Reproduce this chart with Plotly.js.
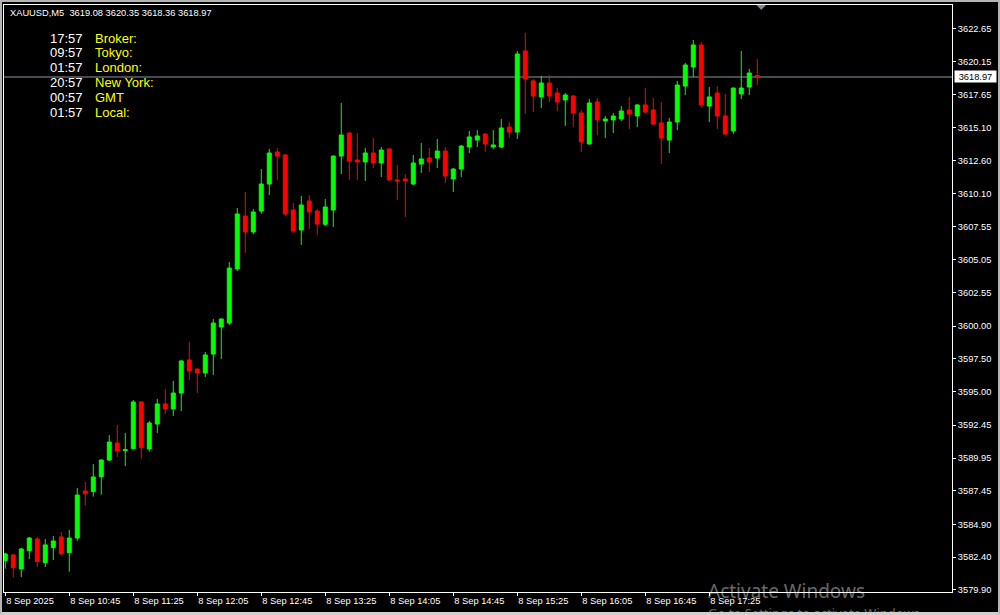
<!DOCTYPE html>
<html><head><meta charset="utf-8">
<script src="https://cdn.plot.ly/plotly-3.0.1.min.js"></script>
<style>
html,body{margin:0;padding:0;background:#000;overflow:hidden;}
#chart{width:1000px;height:615px;}
#frame{position:absolute;left:0;top:0;width:1000px;height:615px;box-sizing:border-box;border:2px solid #b4b4b4;border-bottom:3px solid #cfcfcf;pointer-events:none;}
</style></head><body>
<div id="chart"></div><div id="frame"></div>
<script>
const symbol = 'XAUUSD';
const timeframe = 'M5';
const day = '2025-09-08';

const times = [
 '10:05','10:10','10:15','10:20','10:25','10:30','10:35','10:40',
 '10:45','10:50','10:55','11:00','11:05','11:10','11:15','11:20',
 '11:25','11:30','11:35','11:40','11:45','11:50','11:55','12:00',
 '12:05','12:10','12:15','12:20','12:25','12:30','12:35','12:40',
 '12:45','12:50','12:55','13:00','13:05','13:10','13:15','13:20',
 '13:25','13:30','13:35','13:40','13:45','13:50','13:55','14:00',
 '14:05','14:10','14:15','14:20','14:25','14:30','14:35','14:40',
 '14:45','14:50','14:55','15:00','15:05','15:10','15:15','15:20',
 '15:25','15:30','15:35','15:40','15:45','15:50','15:55','16:00',
 '16:05','16:10','16:15','16:20','16:25','16:30','16:35','16:40',
 '16:45','16:50','16:55','17:00','17:05','17:10','17:15','17:20',
 '17:25','17:30','17:35','17:40','17:45','17:50','17:55'
];

const open = [
 3582.13,3582.57,3581.50,3582.89,3583.78,3581.98,3583.12,3583.94,3582.74,3583.86,
 3587.44,3587.39,3588.53,3589.80,3591.10,3590.51,3590.66,3594.22,3590.64,3592.54,
 3594.07,3593.69,3594.90,3597.42,3596.73,3596.43,3597.87,3599.93,3600.23,3604.35,
 3608.38,3607.17,3608.76,3610.82,3613.26,3613.03,3608.84,3607.32,3609.53,3608.76,
 3607.75,3608.84,3612.95,3614.70,3612.65,3612.50,3613.18,3612.42,3613.49,3611.13,
 3611.20,3610.82,3612.34,3612.80,3612.80,3613.33,3611.20,3611.96,3613.64,3614.17,
 3614.63,3613.64,3613.64,3615.16,3614.78,3620.95,3618.67,3617.45,3618.51,3617.75,
 3617.22,3617.52,3616.23,3613.87,3617.07,3615.62,3615.70,3615.77,3616.46,3616.00,
 3616.84,3616.46,3615.47,3614.17,3615.54,3618.28,3619.73,3621.41,3616.76,3617.75,
 3616.00,3614.86,3617.68,3618.21,3619.08
];
const high = [
 3582.74,3582.62,3583.10,3583.94,3583.94,3583.78,3584.01,3584.32,3584.47,3587.67,
 3588.12,3589.50,3589.84,3591.70,3592.47,3591.86,3594.37,3594.29,3592.77,3594.45,
 3595.21,3595.82,3597.42,3598.81,3596.76,3598.03,3600.54,3600.58,3604.88,3608.99,
 3610.21,3608.92,3611.96,3613.49,3613.56,3613.11,3609.37,3609.91,3609.98,3608.92,
 3609.68,3612.99,3616.99,3614.74,3614.70,3613.56,3614.32,3613.64,3613.52,3612.27,
 3611.58,3613.03,3613.94,3613.56,3614.25,3613.64,3612.04,3613.79,3614.86,3614.93,
 3614.66,3614.93,3615.77,3615.54,3620.95,3622.32,3618.82,3619.05,3619.12,3618.13,
 3617.75,3617.60,3616.46,3617.29,3617.37,3616.00,3616.23,3616.76,3617.45,3616.91,
 3618.13,3617.37,3617.07,3615.85,3618.67,3620.04,3621.79,3621.64,3618.21,3618.28,
 3617.68,3618.16,3620.95,3619.58,3620.35
];
const low = [
 3581.52,3580.84,3580.89,3582.26,3581.65,3581.65,3582.18,3582.51,3581.29,3583.65,
 3586.32,3587.01,3587.16,3589.72,3590.03,3589.34,3590.62,3589.90,3590.43,3591.86,
 3593.30,3593.15,3593.53,3595.89,3594.90,3596.12,3596.27,3597.49,3600.08,3604.20,
 3605.57,3607.01,3608.54,3609.98,3611.13,3608.38,3607.09,3606.18,3607.39,3606.94,
 3607.62,3607.55,3611.58,3611.13,3611.13,3611.05,3612.04,3611.35,3611.05,3609.60,
 3608.31,3610.74,3611.66,3611.73,3612.04,3610.90,3610.21,3611.35,3613.18,3613.64,
 3613.26,3613.49,3613.56,3614.32,3614.25,3616.15,3616.30,3616.61,3617.07,3616.38,
 3615.24,3615.16,3613.26,3613.82,3614.55,3614.32,3614.70,3615.62,3615.01,3615.16,
 3616.23,3615.31,3612.34,3613.18,3614.93,3617.60,3618.97,3616.61,3615.54,3615.01,
 3614.55,3614.63,3617.29,3617.60,3618.36
];
const close = [
 3582.64,3581.60,3583.02,3583.86,3582.06,3583.33,3583.63,3582.66,3583.86,3587.13,
 3587.23,3588.51,3589.80,3591.17,3590.49,3590.59,3594.22,3590.74,3592.62,3594.07,
 3593.69,3594.90,3597.34,3596.58,3596.43,3597.80,3600.23,3600.54,3604.42,3608.54,
 3607.17,3608.69,3610.82,3613.18,3612.95,3608.54,3607.24,3609.22,3608.69,3607.77,
 3609.07,3612.95,3614.55,3612.57,3612.50,3613.18,3612.42,3613.41,3611.13,3611.05,
 3611.05,3612.42,3612.73,3612.50,3613.33,3611.43,3611.96,3613.71,3614.40,3614.48,
 3613.87,3613.79,3615.09,3614.78,3620.72,3618.82,3617.52,3618.51,3617.52,3617.07,
 3617.60,3616.23,3614.02,3616.99,3615.70,3615.77,3616.00,3616.38,3616.15,3616.84,
 3616.30,3615.39,3614.32,3615.54,3618.36,3619.88,3621.41,3616.84,3617.45,3616.00,
 3614.63,3618.13,3618.13,3619.27,3618.97
];

const tickTimes = ['10:05','10:45','11:25','12:05','12:45','13:25','14:05','14:45','15:25','16:05','16:45','17:25'];
const tickLabels = ['8 Sep 2025','8 Sep 10:45','8 Sep 11:25','8 Sep 12:05','8 Sep 12:45','8 Sep 13:25',
                    '8 Sep 14:05','8 Sep 14:45','8 Sep 15:25','8 Sep 16:05','8 Sep 16:45','8 Sep 17:25'];
const priceTicks = [3622.65,3620.15,3617.65,3615.10,3612.60,3610.10,3607.55,3605.05,3602.55,
                    3600.00,3597.50,3595.00,3592.45,3589.95,3587.45,3584.90,3582.40,3579.90];

const clockTimes = ['17:57','09:57','01:57','20:57','00:57','01:57'];
const clockLabels = ['Broker:','Tokyo:','London:','New York:','GMT','Local:'];

// ---------- layout helpers (pixel -> paper) ----------
const PL = 4, PR = 952, PT = 5, PB = 592, W = 1000, H = 615;
const px = p => (p - PL) / (PR - PL);
const py = p => (PB - p) / (PB - PT);
const FONT = 'Liberation Sans, Arial, sans-serif';

const dates = times.map(t => day + ' ' + t);
const barMs = 5 * 60 * 1000;
const t0 = Date.parse(day + 'T' + times[0] + ':00Z');
const n = close.length - 1;
const fmt = v => v.toFixed(2);

const trace = {
  type: 'candlestick',
  x: dates, open: open, high: high, low: low, close: close,
  increasing: {line: {color: '#00ff00', width: 1}, fillcolor: '#00ff00'},
  decreasing: {line: {color: '#ff0000', width: 1}, fillcolor: '#ff0000'},
  whiskerwidth: 0,
  hoverinfo: 'skip',
  showlegend: false
};

const annotations = [];
annotations.push({
  xref: 'paper', yref: 'paper', x: px(8), y: py(13), xanchor: 'left', yanchor: 'middle',
  showarrow: false,
  text: symbol + ',' + timeframe + '\u00a0\u00a0' + [open[n], high[n], low[n], close[n]].map(fmt).join(' '),
  font: {family: FONT, size: 9.3, color: '#ffffff'}
});
clockTimes.forEach((t, i) => {
  const yy = 38 + 14.9 * i;
  annotations.push({xref: 'paper', yref: 'paper', x: px(85), y: py(yy), xanchor: 'right', yanchor: 'middle',
    showarrow: false, text: t, font: {family: FONT, size: 13, color: '#ffffff'}});
  annotations.push({xref: 'paper', yref: 'paper', x: px(93), y: py(yy), xanchor: 'left', yanchor: 'middle',
    showarrow: false, text: clockLabels[i], font: {family: FONT, size: 13, color: '#ffff00'}});
});
// current price tag
annotations.push({
  xref: 'paper', yref: 'y', x: 1, xanchor: 'left', xshift: 2, y: close[n], yanchor: 'middle',
  showarrow: false, text: fmt(close[n]), bgcolor: '#ffffff', borderpad: 1, width: 39, height: 9,
  font: {family: FONT, size: 9.3, color: '#000000'}
});
// Windows watermark
annotations.push({
  xref: 'paper', yref: 'paper', x: px(706), y: py(591), xanchor: 'left', yanchor: 'middle',
  showarrow: false, text: 'Activate Windows',
  font: {family: 'Noto Sans, Open Sans, sans-serif', size: 19, color: 'rgba(255,255,255,0.42)'}
});
annotations.push({
  xref: 'paper', yref: 'paper', x: px(706), y: py(613), xanchor: 'left', yanchor: 'middle',
  showarrow: false, text: 'Go to Settings to activate Windows.',
  font: {family: 'Noto Sans, Open Sans, sans-serif', size: 13, color: 'rgba(255,255,255,0.42)'}
});

const shapes = [
  {type: 'line', xref: 'paper', yref: 'y', x0: 0, x1: 1, y0: close[n], y1: close[n],
   line: {color: '#8a96a2', width: 1}, layer: 'below'},
  {type: 'path', xref: 'paper', yref: 'paper',
   path: 'M ' + px(756.5) + ',' + py(5) + ' L ' + px(766) + ',' + py(5) + ' L ' + px(761.2) + ',' + py(10) + ' Z',
   fillcolor: '#7d8994', line: {width: 0}, layer: 'above'}
];

const layout = {
  width: W, height: H,
  margin: {l: PL, r: W - PR, t: PT, b: H - PB, pad: 0},
  paper_bgcolor: '#000000', plot_bgcolor: '#000000',
  showlegend: false,
  boxgap: 0.5, boxgroupgap: 0,
  font: {family: FONT, size: 9, color: '#ffffff'},
  xaxis: {
    type: 'date',
    range: [t0 - 0.16 * barMs, t0 + 118.34 * barMs],
    rangeslider: {visible: false},
    showgrid: false, zeroline: false,
    showline: true, mirror: true, linecolor: '#ffffff', linewidth: 1,
    ticks: 'outside', ticklen: 3, tickcolor: '#ffffff', tickwidth: 1,
    tickvals: tickTimes.map(t => day + ' ' + t), ticktext: tickLabels,
    ticklabelposition: 'outside right',
    tickfont: {family: FONT, size: 9.3, color: '#ffffff'},
    fixedrange: true
  },
  yaxis: {
    side: 'right',
    range: [3579.747, 3624.453],
    showgrid: false, zeroline: false,
    showline: true, mirror: true, linecolor: '#ffffff', linewidth: 1,
    ticks: 'outside', ticklen: 3, tickcolor: '#ffffff', tickwidth: 1,
    tickvals: priceTicks, ticktext: priceTicks.map(fmt),
    tickfont: {family: FONT, size: 9.3, color: '#ffffff'},
    fixedrange: true
  },
  annotations: annotations,
  shapes: shapes
};

Plotly.newPlot('chart', [trace], layout, {displayModeBar: false, staticPlot: true});
</script>
</body></html>
